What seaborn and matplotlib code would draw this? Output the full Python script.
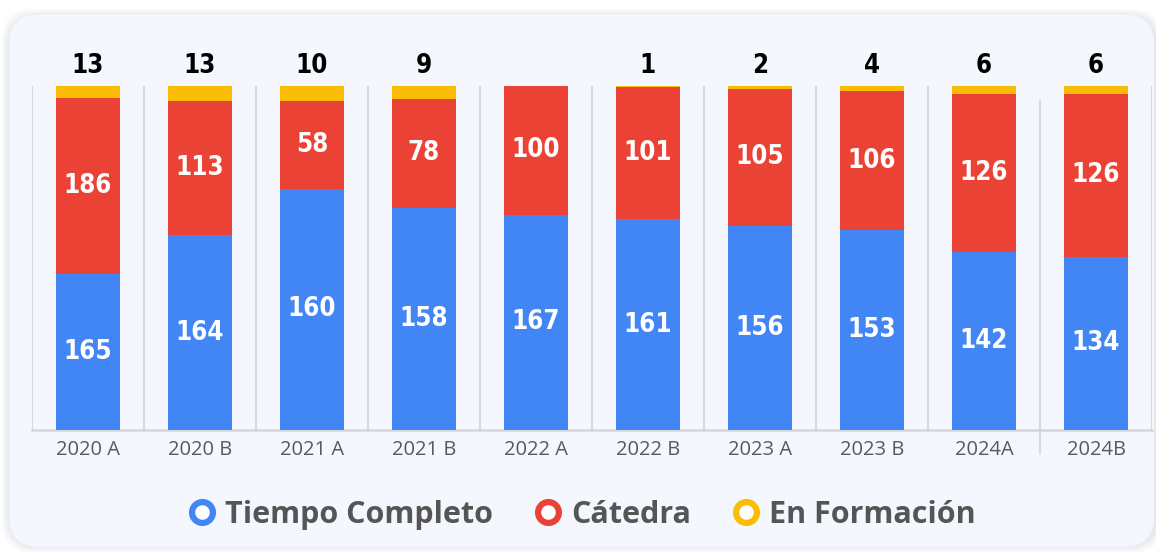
import matplotlib
matplotlib.use("Agg")
import matplotlib.pyplot as plt
import seaborn as sns
import numpy as np
import pandas as pd
from matplotlib.patches import FancyBboxPatch
from matplotlib.lines import Line2D

periodos = ["2020 A", "2020 B", "2021 A", "2021 B", "2022 A", "2022 B",
            "2023 A", "2023 B", "2024A", "2024B"]
tiempo_completo = [165, 164, 160, 158, 167, 161, 156, 153, 142, 134]
catedra = [186, 113, 58, 78, 100, 101, 105, 106, 126, 126]
en_formacion = [13, 13, 10, 9, 0, 1, 2, 4, 6, 6]

azul = "#4285F4"
rojo = "#EA4335"
amarillo = "#FBBC04"
fondo = "#F4F7FE"

df = pd.DataFrame({"periodo": periodos, "tc": tiempo_completo,
                   "cat": catedra, "form": en_formacion})
total = df["tc"] + df["cat"] + df["form"]
df["p_tc"] = df["tc"] / total * 100
df["p_cat"] = df["cat"] / total * 100
df["p_form"] = df["form"] / total * 100
df["top_cat"] = df["p_tc"] + df["p_cat"]
df["top_form"] = df["top_cat"] + df["p_form"]

sns.set_style("white")
plt.rcParams["font.family"] = ["DejaVu Sans"]

fig = plt.figure(figsize=(11.56, 5.52), dpi=100)
fig.patch.set_facecolor("white")

# tarjeta con sombra
for i, a in enumerate([0.04, 0.05, 0.06, 0.08]):
    p = 8 - i * 2
    sh = FancyBboxPatch((0.10 - p / 100, 0.06 - p / 100 + 0.01),
                        11.45 + 2 * p / 100, 5.28 + 2 * p / 100,
                        boxstyle="round,pad=0,rounding_size=0.32",
                        transform=fig.dpi_scale_trans, facecolor="#7d879e",
                        edgecolor="none", alpha=a, zorder=0)
    fig.add_artist(sh)
card = FancyBboxPatch((0.09, 0.05), 11.45, 5.33,
                      boxstyle="round,pad=0,rounding_size=0.30",
                      transform=fig.dpi_scale_trans, facecolor=fondo,
                      edgecolor="#eef0f5", linewidth=1, zorder=0)
fig.add_artist(card)

ax = fig.add_axes([32 / 1156, 1 - 430 / 552, 1120 / 1156, 344 / 552])
ax.set_facecolor("none")

for col, c in [("top_form", amarillo), ("top_cat", rojo), ("p_tc", azul)]:
    sns.barplot(data=df, x="periodo", y=col, color=c, width=0.57,
                saturation=1, linewidth=0, ax=ax, zorder=3)

ax.set_xlim(-0.5, len(periodos) - 0.5)
ax.set_ylim(0, 100)
ax.set_xlabel("")
ax.set_ylabel("")
ax.set_yticks([])
for s in ["top", "right", "left"]:
    ax.spines[s].set_visible(False)
ax.spines["bottom"].set_color("#d6d6d6")
ax.spines["bottom"].set_linewidth(1.8)
for xb in np.arange(-0.5, len(periodos), 1.0):
    if xb == len(periodos) - 1.5:
        ax.axvline(xb, ymin=-0.07, ymax=0.96, color="#d9d9d9",
                   linewidth=1.5, zorder=1, clip_on=False)
    else:
        ax.axvline(xb, color="#d9d9d9", linewidth=1.5, zorder=1)

ax.tick_params(axis="x", length=0, pad=7)
ax.set_xticks(range(len(periodos)))
ax.set_xticklabels(periodos, fontsize=14.5, color="#5a5a5a",
                   family=["Open Sans", "DejaVu Sans"])

lbl = dict(family="DejaVu Sans", fontstretch="condensed", fontweight="bold",
           fontsize=18.5, ha="center", va="center")
for i, r in df.iterrows():
    ax.text(i, r["p_tc"] / 2, str(r["tc"]), color="white", zorder=5, **lbl)
    ax.text(i, r["p_tc"] + r["p_cat"] / 2, str(r["cat"]), color="white",
            zorder=5, **lbl)
    if r["form"] > 0:
        ax.annotate(str(r["form"]), (i, r["top_form"]), xytext=(0, 5),
                    textcoords="offset points", color="black",
                    annotation_clip=False,
                    **{**lbl, "va": "bottom"})

handles = [Line2D([], [], marker="o", linestyle="none", markersize=15,
                  markerfacecolor="white", markeredgecolor=c,
                  markeredgewidth=4.5)
           for c in [azul, rojo, amarillo]]
leg = fig.legend(handles, ["Tiempo Completo", "Cátedra", "En Formación"],
                 loc="center", bbox_to_anchor=(581 / 1156, 1 - 515 / 552),
                 ncol=3, frameon=False, handlelength=1.0, handletextpad=0.25,
                 columnspacing=1.3,
                 prop={"family": "Open Sans", "weight": "bold", "size": 22})
for t in leg.get_texts():
    t.set_color("#555555")

fig.savefig("out.png", dpi=100, facecolor="white")
